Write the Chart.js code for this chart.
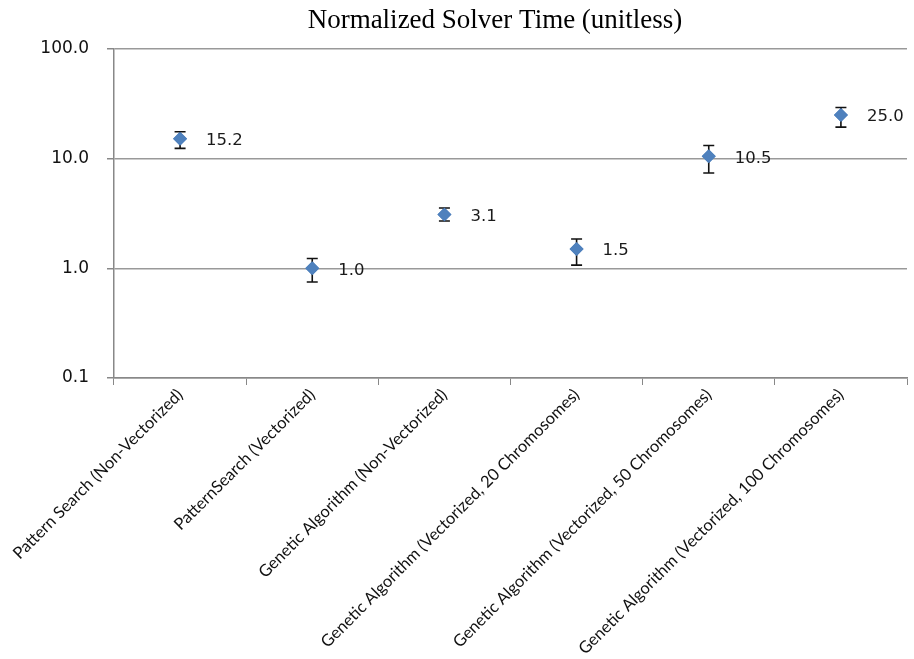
<!DOCTYPE html>
<html><head><meta charset="utf-8">
<script src="https://cdn.jsdelivr.net/npm/chart.js@4/dist/chart.umd.min.js"></script>
<style>html,body{margin:0;padding:0;background:#fff}#wrap{width:914px;height:659px}</style>
</head><body><div id="wrap"><canvas id="c" width="914" height="659"></canvas></div>
<script>
const categories = [
  'Pattern Search (Non-Vectorized)',
  'PatternSearch (Vectorized)',
  'Genetic Algorithm (Non-Vectorized)',
  'Genetic Algorithm (Vectorized, 20 Chromosomes)',
  'Genetic Algorithm (Vectorized, 50 Chromosomes)',
  'Genetic Algorithm (Vectorized, 100 Chromosomes)'
];
const values = [15.2, 1.0, 3.1, 1.5, 10.5, 25.0];
const errUpper = [17.6, 1.23, 3.55, 1.85, 13.2, 29.3];
const errLower = [12.4, 0.75, 2.7, 1.07, 7.4, 19.4];
const yTicks = [0.1, 1, 10, 100];
const titleText = 'Normalized Solver Time (unitless)';

const overlay = {
  id: 'overlay',
  afterDatasetsDraw(chart) {
    const ctx = chart.ctx, x = chart.scales.x, y = chart.scales.y;
    ctx.save();
    ctx.strokeStyle = '#111'; ctx.lineWidth = 1.6;
    values.forEach((v, i) => {
      const px = x.getPixelForValue(i);
      const t = y.getPixelForValue(errUpper[i]), b = y.getPixelForValue(errLower[i]);
      ctx.beginPath();
      ctx.moveTo(px, t); ctx.lineTo(px, b);
      ctx.moveTo(px - 5.5, t); ctx.lineTo(px + 5.5, t);
      ctx.moveTo(px - 5.5, b); ctx.lineTo(px + 5.5, b);
      ctx.stroke();
    });
    const meta = chart.getDatasetMeta(0);
    meta.data.forEach(p => p.draw(ctx, chart.chartArea));
    ctx.fillStyle = '#1a1a1a';
    ctx.font = '16.5px "DejaVu Sans"';
    ctx.textAlign = 'left'; ctx.textBaseline = 'middle';
    values.forEach((v, i) => {
      const px = x.getPixelForValue(i), py = y.getPixelForValue(v);
      ctx.fillText(v.toFixed(1), px + 26, py + 2);
    });
    ctx.fillStyle = '#000';
    ctx.font = '27px "Liberation Serif"';
    ctx.textAlign = 'center'; ctx.textBaseline = 'middle';
    ctx.fillText(titleText, 495, 21);
    ctx.restore();
  }
};

new Chart(document.getElementById('c'), {
  type: 'line',
  data: {
    labels: categories,
    datasets: [{
      data: values,
      showLine: false,
      pointStyle: 'rectRot',
      pointRadius: 7,
      pointHoverRadius: 7,
      backgroundColor: '#4F81BD',
      borderColor: '#4F81BD',
      borderWidth: 0
    }]
  },
  options: {
    responsive: false,
    animation: false,
    events: [],
    layout: { padding: { top: 49, right: 3, left: 0, bottom: 0 } },
    plugins: { legend: { display: false }, tooltip: { enabled: false }, title: { display: false } },
    scales: {
      x: {
        type: 'category',
        offset: true,
        afterFit(s) { s.height = 281; s.paddingRight = 0; if (s._margins) s._margins.right = 0; },
        grid: { offset: true, drawOnChartArea: false, color: '#888', tickLength: 7, tickColor: '#888' },
        border: { color: '#888', width: 1.5 },
        ticks: { minRotation: 45, maxRotation: 45, color: '#111', font: { family: 'Lato', size: 16.5 }, padding: 0 }
      },
      y: {
        type: 'logarithmic',
        min: 0.1, max: 100,
        afterBuildTicks(s) { s.ticks = yTicks.map(v => ({ value: v })); },
        afterFit(s) { s.width = 114; },
        grid: { color: '#999', lineWidth: 1.5, tickLength: 7, tickColor: '#888' },
        border: { color: '#888', width: 1.5 },
        ticks: { color: '#111', font: { family: 'DejaVu Sans', size: 17 }, padding: 18,
          callback: (v) => Number(v).toFixed(1) }
      }
    }
  },
  plugins: [overlay]
});
</script></body></html>
